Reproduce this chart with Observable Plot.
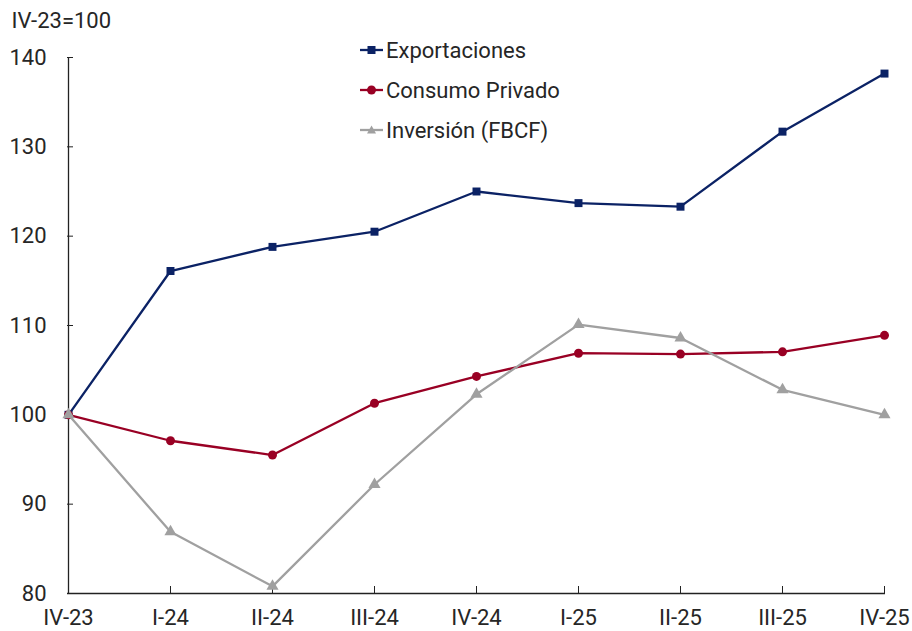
<!DOCTYPE html>
<html>
<head>
<meta charset="utf-8">
<script src="https://cdn.jsdelivr.net/npm/d3@7"></script>
<script src="https://cdn.jsdelivr.net/npm/@observablehq/plot@0.6"></script>
<style>
  body { margin: 0; background: #fff; }
  #chart { position: relative; width: 912px; height: 631px; font-family: Roboto, sans-serif; }
  #chart svg { display: block; }
  .legend { position: absolute; left: 359px; top: 30px; }
  .legend .row { display: flex; align-items: center; height: 40px; font-size: 22px; color: #262626; }
  .legend svg { margin-right: 2px; }
</style>
</head>
<body>
<div id="chart"></div>
<script>
// Quarterly indices, base IV-23 = 100
const quarters = ["IV-23", "I-24", "II-24", "III-24", "IV-24", "I-25", "II-25", "III-25", "IV-25"];
const exportaciones = [100, 116.1, 118.8, 120.5, 125.0, 123.7, 123.3, 131.7, 138.2];
const consumoPrivado = [100, 97.1, 95.5, 101.3, 104.3, 106.9, 106.8, 107.05, 108.9];
const inversion = [100, 86.9, 80.8, 92.2, 102.3, 110.1, 108.6, 102.8, 100.0];

const seriesNames = ["Exportaciones", "Consumo Privado", "Inversión (FBCF)"];
const seriesColors = ["#0b2265", "#990024", "#a0a0a0"];
const seriesSymbols = ["square", "circle", "triangle"];
const yTicks = [80, 90, 100, 110, 120, 130, 140];
const yTitle = "IV-23=100";

const seriesValues = [exportaciones, consumoPrivado, inversion];
const rows = seriesNames.flatMap((name, i) =>
  quarters.map((q, j) => ({ series: name, quarter: q, value: seriesValues[i][j] }))
);

const axisColor = "#222";
const textColor = "#262626";

const chart = Plot.plot({
  width: 912,
  height: 631,
  marginLeft: 67,
  marginRight: 27,
  marginTop: 57,
  marginBottom: 38,
  style: { fontFamily: "Roboto, sans-serif", fontSize: "22px", color: textColor, background: "#fff", overflow: "visible" },
  x: { type: "point", domain: quarters, padding: 0, label: null },
  y: { domain: [80, 140], label: null },
  color: { domain: seriesNames, range: seriesColors },
  symbol: { domain: seriesNames, range: seriesSymbols },
  marks: [
    Plot.ruleX([quarters[0]], { stroke: axisColor, strokeWidth: 1.3 }),
    Plot.ruleY([80], { stroke: axisColor, strokeWidth: 1.3 }),
    Plot.axisY({ ticks: yTicks, tickSize: -6, tickPadding: 27, stroke: axisColor, fill: textColor, label: null }),
    Plot.axisX({ tickSize: -7, tickPadding: 23, stroke: axisColor, fill: textColor, label: null }),
    ...seriesNames.flatMap((name) => {
      const d = rows.filter((r) => r.series === name);
      return [
        Plot.line(d, { x: "quarter", y: "value", stroke: "series", strokeWidth: 2.3 }),
        Plot.dot(d, { x: "quarter", y: "value", fill: "series", symbol: "series", r: 4.5, stroke: "none" })
      ];
    }),
    Plot.text([yTitle], {
      frameAnchor: "top-left", dx: -56, dy: -37,
      textAnchor: "start", lineAnchor: "middle", fontSize: 22, fill: textColor
    })
  ]
});

const container = document.getElementById("chart");
container.appendChild(chart);

// Legend: short line with the series marker, followed by the name
const legend = document.createElement("div");
legend.className = "legend";
const symbolPath = {
  square: "M-4,-4h8v8h-8z",
  circle: "M-4.5,0a4.5,4.5 0 1,0 9,0a4.5,4.5 0 1,0 -9,0",
  triangle: "M0,-4.5L4.5,3.5L-4.5,3.5z"
};
seriesNames.forEach((name, i) => {
  const row = document.createElement("div");
  row.className = "row";
  row.innerHTML =
    `<svg width="25" height="14" viewBox="0 0 25 14">` +
    `<line x1="1" x2="24" y1="7" y2="7" stroke="${seriesColors[i]}" stroke-width="2.3"/>` +
    `<path transform="translate(12.5,7)" d="${symbolPath[seriesSymbols[i]]}" fill="${seriesColors[i]}"/>` +
    `</svg><span>${name}</span>`;
  legend.appendChild(row);
});
container.appendChild(legend);
</script>
</body>
</html>
